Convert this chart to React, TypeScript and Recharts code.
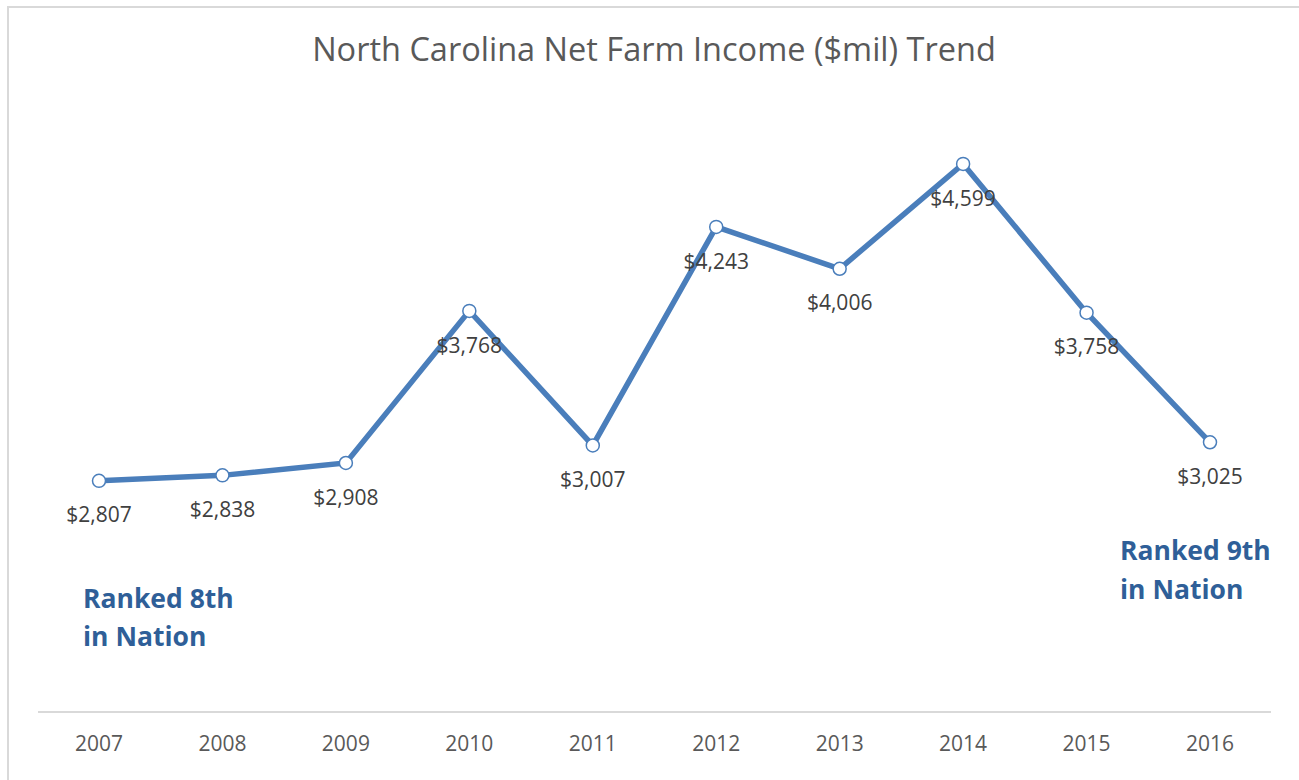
import { LineChart, Line, XAxis, YAxis, LabelList } from "recharts";

const years = ["2007", "2008", "2009", "2010", "2011", "2012", "2013", "2014", "2015", "2016"];
const netIncome = [2807, 2838, 2908, 3768, 3007, 4243, 4006, 4599, 3758, 3025];

const data = years.map((year, i) => ({ year, value: netIncome[i] }));

const LINE_COLOR = "#4a7ebb";
const FONT = "'Open Sans', sans-serif";

function ValueLabel(props: any) {
  const { x, y, value } = props;
  return (
    <text
      x={x}
      y={y + 36}
      textAnchor="middle"
      dominantBaseline="middle"
      fill="#404040"
      fontSize={21}
      fontFamily={FONT}
    >
      {"$" + Number(value).toLocaleString("en-US")}
    </text>
  );
}

export default function App() {
  return (
    <div
      style={{
        position: "absolute",
        left: 0,
        top: 0,
        width: 1299,
        height: 780,
        background: "#fff",
        overflow: "hidden",
        fontFamily: FONT,
      }}
    >
      <div
        style={{
          position: "absolute",
          left: 7,
          top: 6,
          width: 1310,
          height: 800,
          border: "2px solid #d9d9d9",
          boxSizing: "border-box",
        }}
      />
      <div
        style={{
          position: "absolute",
          left: 0,
          top: 26,
          width: 1308,
          textAlign: "center",
          fontSize: 32.5,
          color: "#595959",
        }}
      >
        North Carolina Net Farm Income ($mil) Trend
      </div>
      <div style={{ position: "absolute", left: 0, top: 0 }}>
        <LineChart
          width={1299}
          height={780}
          data={data}
          margin={{ top: 93, right: 28, bottom: 38, left: 38 }}
        >
          <XAxis
            dataKey="year"
            padding={{ left: 61, right: 61 }}
            axisLine={{ stroke: "#d9d9d9", strokeWidth: 2 }}
            tickLine={false}
            tickMargin={18}
            tick={{ fill: "#595959", fontSize: 21, fontFamily: FONT }}
          />
          <YAxis hide domain={[1500, 5000]} />
          <Line
            dataKey="value"
            stroke={LINE_COLOR}
            strokeWidth={5.5}
            isAnimationActive={false}
            dot={{ r: 6.5, stroke: LINE_COLOR, strokeWidth: 1.5, fill: "#fff" }}
          >
            <LabelList dataKey="value" content={<ValueLabel />} />
          </Line>
        </LineChart>
      </div>
      <div
        style={{
          position: "absolute",
          left: 83,
          top: 579,
          fontSize: 26.5,
          fontWeight: 700,
          color: "#2f5f98",
          lineHeight: "38px",
        }}
      >
        Ranked 8th
        <br />
        in Nation
      </div>
      <div
        style={{
          position: "absolute",
          left: 1120,
          top: 531,
          fontSize: 26.5,
          fontWeight: 700,
          color: "#2f5f98",
          lineHeight: "39px",
        }}
      >
        Ranked 9th
        <br />
        in Nation
      </div>
    </div>
  );
}
